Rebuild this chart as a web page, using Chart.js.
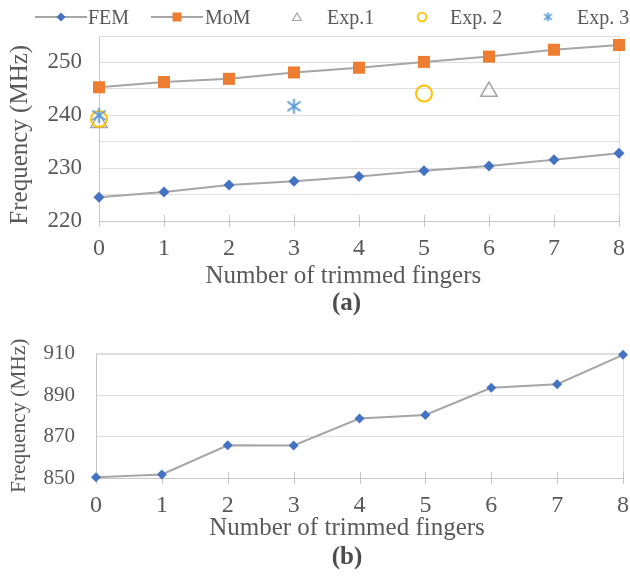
<!DOCTYPE html>
<html>
<head>
<meta charset="utf-8">
<script src="https://cdn.jsdelivr.net/npm/chart.js"></script>
<style>
  html, body { margin: 0; padding: 0; background: #fff; }
  #page { position: relative; width: 630px; height: 580px; overflow: hidden;
          font-family: "Liberation Serif", "Times New Roman", serif; color: #595959; }
  #chartA { position: absolute; left: 0; top: 0; }
  #chartB { position: absolute; left: 0; top: 320px; }
  .lg-text { position: absolute; top: 7px; font-size: 20px; line-height: 20px; white-space: nowrap; }
  .lg-icon { position: absolute; }
</style>
</head>
<body>
<div id="page">
  <canvas id="chartA" width="630" height="320"></canvas>
  <canvas id="chartB" width="630" height="260"></canvas>
  <div id="legend"></div>
</div>
<script>
// ---- data ----
const fingers = [0, 1, 2, 3, 4, 5, 6, 7, 8];
const femA = [224.5, 225.5, 226.8, 227.5, 228.4, 229.5, 230.4, 231.6, 232.8];
const momA = [245.3, 246.3, 246.9, 248.1, 249.0, 250.1, 251.1, 252.4, 253.3];
const exp1X = [0, 6];
const exp1 = [238.6, 244.5];
const exp2X = [0, 5];
const exp2 = [239.3, 244.1];
const exp3X = [0, 3];
const exp3 = [240.0, 241.7];
const femB = [850.4, 851.7, 865.8, 865.7, 878.7, 880.4, 893.5, 895.2, 909.4];

const yTicksA = { min: 220, max: 255, step: 5, labelEvery: 10 };
const yTicksB = { min: 850, max: 910, step: 20 };
const seriesNames = ['FEM', 'MoM', 'Exp.1', 'Exp. 2', 'Exp. 3'];
const xTitle = 'Number of trimmed fingers';
const yTitle = 'Frequency (MHz)';

// ---- styling ----
const serif = '"Liberation Serif", "Times New Roman", serif';
const textGray = '#595959';
const gridGray = '#dedede';
const axisGray = '#c6c6c6';
const lineGray = '#a6a6a6';
const femBlue = '#4472c4';
const momOrange = '#ed7d31';
const exp1Gray = '#a5a5a5';
const exp2Yellow = '#ffc000';
const exp3Blue = '#5b9bd5';

const pts = (xs, ys) => xs.map((x, i) => ({ x: x, y: ys[i] }));

// six-armed asterisk marker (vertical stroke plus an X)
function asteriskCanvas(size, lw) {
  const c = document.createElement('canvas');
  c.width = size; c.height = size;
  const g = c.getContext('2d');
  const m = size / 2, r = size / 2 - 1;
  g.strokeStyle = exp3Blue; g.lineWidth = lw; g.lineCap = 'butt';
  g.beginPath();
  g.moveTo(m, m - r); g.lineTo(m, m + r);
  const dx = r * 0.87, dy = r * 0.62;
  g.moveTo(m - dx, m - dy); g.lineTo(m + dx, m + dy);
  g.moveTo(m - dx, m + dy); g.lineTo(m + dx, m - dy);
  g.stroke();
  return c;
}

// plot frame (top/right edges) and tick marks crossing the category axis
const framePlugin = {
  id: 'frame',
  beforeDatasetsDraw(chart) {
    const { ctx, chartArea: a, scales: { x } } = chart;
    ctx.save();
    ctx.lineWidth = 1;
    ctx.strokeStyle = gridGray;
    ctx.beginPath();
    ctx.moveTo(a.left, Math.round(a.top) + 0.5);
    ctx.lineTo(a.right, Math.round(a.top) + 0.5);
    ctx.moveTo(Math.round(a.right) + 0.5, a.top);
    ctx.lineTo(Math.round(a.right) + 0.5, a.bottom);
    ctx.stroke();
    ctx.strokeStyle = axisGray;
    ctx.beginPath();
    x.ticks.forEach(t => {
      const px = Math.round(x.getPixelForValue(t.value)) + 0.5;
      ctx.moveTo(px, a.bottom - 6);
      ctx.lineTo(px, a.bottom + 6);
    });
    ctx.stroke();
    ctx.restore();
  }
};

function xScale(tickSize, tickPad, axisHeight, titleText) {
  return {
    type: 'linear', min: 0, max: 8,
    ticks: { stepSize: 1, color: textGray, padding: tickPad,
             font: { family: serif, size: tickSize, lineHeight: 1 } },
    grid: { drawOnChartArea: false, drawTicks: false },
    border: { color: axisGray },
    title: { display: true, text: titleText, color: textGray,
             font: { family: serif, size: 25, lineHeight: 0.9 },
             padding: { top: 0, bottom: 0 } },
    afterFit(s) {
      s.height = axisHeight;
      s.paddingRight = 0;
    }
  };
}

// ---- (a) resonance frequency vs trimmed fingers ----
new Chart(document.getElementById('chartA'), {
  type: 'line',
  data: {
    datasets: [
      { label: seriesNames[4], data: pts(exp3X, exp3), showLine: false, clip: false, order: 1,
        pointStyle: asteriskCanvas(17, 1.9), pointRadius: 8 },
      { label: seriesNames[3], data: pts(exp2X, exp2), showLine: false, clip: false, order: 2,
        pointStyle: 'circle', pointRadius: 8, pointBorderWidth: 2,
        pointBorderColor: exp2Yellow, pointBackgroundColor: 'rgba(0,0,0,0)' },
      { label: seriesNames[2], data: pts(exp1X, exp1), showLine: false, clip: false, order: 3,
        pointStyle: 'triangle', pointRadius: 9.5, pointBorderWidth: 1.5,
        pointBorderColor: exp1Gray, pointBackgroundColor: 'rgba(0,0,0,0)' },
      { label: seriesNames[1], data: pts(fingers, momA), clip: false, order: 4,
        borderColor: lineGray, borderWidth: 2,
        pointStyle: 'rect', pointRadius: 8.5, pointBorderWidth: 0,
        pointBackgroundColor: momOrange, pointBorderColor: momOrange },
      { label: seriesNames[0], data: pts(fingers, femA), clip: false, order: 5,
        borderColor: lineGray, borderWidth: 2,
        pointStyle: 'rectRot', pointRadius: 5.5, pointBorderWidth: 0,
        pointBackgroundColor: femBlue, pointBorderColor: femBlue }
    ]
  },
  options: {
    responsive: false, animation: false, events: [],
    layout: { padding: { top: 36, right: 5, left: 0, bottom: 0 } },
    plugins: {
      legend: { display: false },
      tooltip: { enabled: false },
      title: { display: true, position: 'bottom', fullSize: false, text: '(a)    ',
               color: '#4d4d4d', font: { family: serif, size: 25, weight: 'bold', lineHeight: 1 },
               padding: { top: 3, bottom: 4 } }
    },
    scales: {
      x: xScale(24, 16, 67, xTitle + '     '),
      y: {
        min: yTicksA.min, max: yTicksA.max,
        ticks: { stepSize: yTicksA.step, autoSkip: false, color: textGray, padding: 17,
                 font: { family: serif, size: 23, lineHeight: 1.2 },
                 callback: v => (v % yTicksA.labelEvery === 0 ? v : '') },
        grid: { color: gridGray, drawTicks: false },
        border: { color: axisGray },
        title: { display: true, text: yTitle + '  ', color: textGray,
                 font: { family: serif, size: 25, lineHeight: 1 },
                 padding: { top: 7.5, bottom: 0 } },
        afterFit(s) { s.width = 99; }
      }
    }
  },
  plugins: [framePlugin]
});

// ---- (b) ----
new Chart(document.getElementById('chartB'), {
  type: 'line',
  data: {
    datasets: [
      { label: seriesNames[0], data: pts(fingers, femB), clip: false,
        borderColor: lineGray, borderWidth: 2,
        pointStyle: 'rectRot', pointRadius: 5, pointBorderWidth: 0,
        pointBackgroundColor: femBlue, pointBorderColor: femBlue }
    ]
  },
  options: {
    responsive: false, animation: false, events: [],
    layout: { padding: { top: 21, right: 7, left: 0, bottom: 0 } },
    plugins: {
      legend: { display: false },
      tooltip: { enabled: false },
      title: { display: true, position: 'bottom', fullSize: false, text: '(b)    ',
               color: '#4d4d4d', font: { family: serif, size: 25, weight: 'bold', lineHeight: 1 },
               padding: { top: 5, bottom: 10 } }
    },
    scales: {
      x: xScale(24, 15.6, 62, xTitle + '    '),
      y: {
        min: yTicksB.min, max: yTicksB.max,
        ticks: { stepSize: yTicksB.step, autoSkip: false, color: textGray, padding: 21,
                 font: { family: serif, size: 21, lineHeight: 1.2 } },
        grid: { color: gridGray, drawTicks: false },
        border: { color: axisGray },
        title: { display: true, text: yTitle, color: textGray,
                 font: { family: serif, size: 21.5, lineHeight: 1 },
                 padding: { top: 9, bottom: 0 } },
        afterFit(s) { s.width = 96; }
      }
    }
  },
  plugins: [framePlugin]
});

// ---- legend ----
const legendLayout = [
  { icon: 'fem', cx: 60.5, w: 52, textX: 88 },
  { icon: 'mom', cx: 177, w: 52, textX: 205 },
  { icon: 'exp1', cx: 297, w: 14, textX: 327 },
  { icon: 'exp2', cx: 422, w: 14, textX: 450 },
  { icon: 'exp3', cx: 548, w: 14, textX: 577 }
];
const legendMidY = 17.3, iconH = 16;

function drawIcon(g, kind, w, h) {
  const cx = w / 2, cy = h / 2;
  if (kind === 'fem' || kind === 'mom') {
    g.strokeStyle = lineGray; g.lineWidth = 2;
    g.beginPath(); g.moveTo(0, cy); g.lineTo(w, cy); g.stroke();
  }
  if (kind === 'fem') {
    const r = 4.5;
    g.fillStyle = femBlue;
    g.beginPath(); g.moveTo(cx, cy - r); g.lineTo(cx + r, cy); g.lineTo(cx, cy + r); g.lineTo(cx - r, cy);
    g.closePath(); g.fill();
  } else if (kind === 'mom') {
    g.fillStyle = momOrange; g.fillRect(cx - 4.5, cy - 4.5, 9, 9);
  } else if (kind === 'exp1') {
    const r = 5;
    g.strokeStyle = exp1Gray; g.lineWidth = 1.2;
    g.beginPath();
    for (let k = 0; k < 3; k++) {
      const a = k * 2 * Math.PI / 3;
      const px = cx + Math.sin(a) * r, py = cy + 1 - Math.cos(a) * r;
      if (k === 0) g.moveTo(px, py); else g.lineTo(px, py);
    }
    g.closePath(); g.stroke();
  } else if (kind === 'exp2') {
    g.strokeStyle = exp2Yellow; g.lineWidth = 1.8;
    g.beginPath(); g.arc(cx, cy, 4.3, 0, Math.PI * 2); g.stroke();
  } else if (kind === 'exp3') {
    g.drawImage(asteriskCanvas(11, 1.6), cx - 5.5, cy - 5.5);
  }
}

const legendEl = document.getElementById('legend');
seriesNames.forEach((name, i) => {
  const L = legendLayout[i];
  const c = document.createElement('canvas');
  c.width = L.w; c.height = iconH;
  c.className = 'lg-icon';
  c.style.left = (L.cx - L.w / 2) + 'px';
  c.style.top = (legendMidY - iconH / 2) + 'px';
  drawIcon(c.getContext('2d'), L.icon, L.w, iconH);
  legendEl.appendChild(c);
  const t = document.createElement('div');
  t.className = 'lg-text';
  t.style.left = L.textX + 'px';
  t.textContent = name;
  legendEl.appendChild(t);
});
</script>
</body>
</html>
